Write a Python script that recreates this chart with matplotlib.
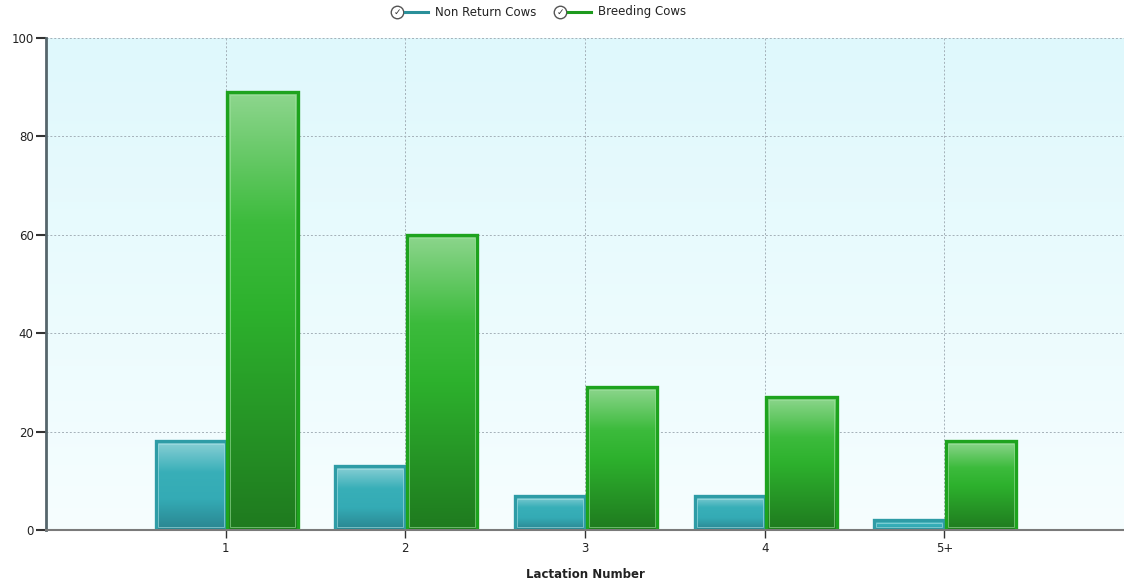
import numpy as np
import matplotlib
matplotlib.use("Agg")
import matplotlib.pyplot as plt
from matplotlib.colors import LinearSegmentedColormap
from matplotlib.lines import Line2D

categories = ["1", "2", "3", "4", "5+"]
non_return = [18, 13, 7, 7, 2]
breeding = [89, 60, 29, 27, 18]
series_names = ["Non Return Cows", "Breeding Cows"]
y_ticks = [0, 20, 40, 60, 80, 100]

plt.rcParams['font.family'] = ['DejaVu Sans']

fig = plt.figure(figsize=(11.24, 5.82), dpi=100)
ax = fig.add_axes([46/1124, 1-530/582, 1-46/1124, (530-38)/582])

x = np.arange(1, len(categories) + 1)
w = 0.39
ax.set_xlim(0, 6)
ax.set_ylim(0, 100)

# background gradient
bg = LinearSegmentedColormap.from_list("bg", ["#f6feff", "#dff8fc"])
ax.imshow(np.linspace(0, 1, 256).reshape(-1, 1), extent=(0, 6, 0, 100), origin="lower",
          cmap=bg, aspect="auto", zorder=0)

# grid
grid_kw = dict(color="#a4b0b8", lw=0.7, ls=(0, (2, 2)), zorder=1)
for yv in y_ticks[1:]:
    ax.axhline(yv, **grid_kw)
for xv in x:
    ax.axvline(xv, **grid_kw)

teal_cm = LinearSegmentedColormap.from_list("teal", [(0, "#2a8590"), (0.35, "#34abb5"), (0.65, "#38afb8"), (1, "#8cd0d6")])
green_cm = LinearSegmentedColormap.from_list("green", [(0, "#1f7a1f"), (0.5, "#2db12d"), (0.7, "#3cbb3c"), (1, "#8ed68e")])

def draw_bars(xs, vals, cmap, edge, inner):
    bars = ax.bar(xs, vals, width=w, align="edge", facecolor="none", edgecolor="none", zorder=3)
    for b in bars:
        x0, y0 = b.get_x(), b.get_y()
        bw, bh = b.get_width(), b.get_height()
        ax.imshow(np.linspace(0, 1, 256).reshape(-1, 1), extent=(x0, x0 + bw, y0, y0 + bh),
                  origin="lower", cmap=cmap, aspect="auto", zorder=2)
        ax.add_patch(plt.Rectangle((x0, y0), bw, bh, fill=False, edgecolor=edge, lw=2.4, zorder=4))
        dx = 0.012
        dy = 0.6
        if bh > 2 * dy:
            ax.add_patch(plt.Rectangle((x0 + dx, y0 + dy), bw - 2 * dx, bh - 2 * dy, fill=False,
                                       edgecolor=inner, lw=0.6, alpha=0.7, zorder=4))
    return bars

draw_bars(x - w, non_return, teal_cm, "#2e9ca6", "#a8e0e4")
draw_bars(x + 0.01, breeding, green_cm, "#1ea31e", "#9ee29e")

# axes styling
for s in ["top", "right"]:
    ax.spines[s].set_visible(False)
ax.spines["left"].set_color("#56666c")
ax.spines["left"].set_linewidth(2)
ax.spines["bottom"].set_color("#7a7a7a")
ax.spines["bottom"].set_linewidth(1.5)
ax.spines["bottom"].set_zorder(5)

ax.set_yticks(y_ticks)
ax.set_yticklabels([str(v) for v in y_ticks], fontsize=8.5, color="#222222")
ax.set_xticks(x)
ax.set_xticklabels(categories, fontsize=8.5, color="#222222")
ax.tick_params(axis="y", length=7, width=1.5, color="#333333", pad=2)
ax.tick_params(axis="x", length=6, width=1, color="#333333", pad=3)
ax.set_xlabel("Lactation Number", fontsize=8.5, fontweight="bold", color="#222222", labelpad=9)

# legend (custom, top center)
def legend_item(cx, color, label):
    yf = 1 - 12 / 582
    fig.add_artist(Line2D([cx / 1124], [yf], transform=fig.transFigure, marker="o", markersize=9,
                          markerfacecolor="white", markeredgecolor="#555555", markeredgewidth=1.0, ls="none"))
    fig.text(cx / 1124, yf, "✓", fontsize=6.5, ha="center", va="center", color="#333333", fontweight="bold")
    fig.add_artist(Line2D([(cx + 8) / 1124, (cx + 31) / 1124], [yf] * 2,
                          transform=fig.transFigure, color=color, lw=2.2))
    fig.text((cx + 38) / 1124, yf, label, fontsize=8.5, ha="left", va="center", color="#222222")

legend_item(397, "#2a8f99", series_names[0])
legend_item(560, "#1e9a1e", series_names[1])

fig.savefig("out.png", dpi=100)
